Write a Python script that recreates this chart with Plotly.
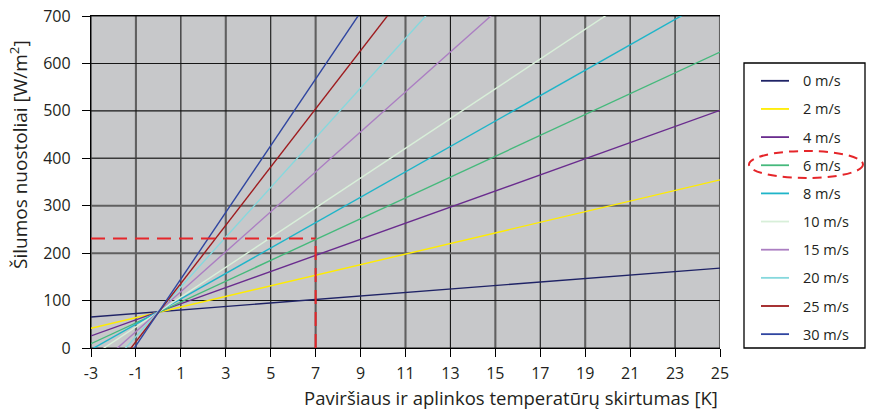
import plotly.graph_objects as go

# ---- data ----
speeds = ["0 m/s", "2 m/s", "4 m/s", "6 m/s", "8 m/s", "10 m/s", "15 m/s", "20 m/s", "25 m/s", "30 m/s"]
x_ends = [-3, 25]
y_at_start = [65.5, 41.6, 25.4, 9.1, -3.4, -18.2, -49.7, -80.7, -109.3, -135.7]
y_at_end = [168.5, 354.5, 501.0, 624.0, 746.4, 860.4, 1129.7, 1386.5, 1608.6, 1832.7]
colors = ["#1f2366", "#ffec00", "#6a2c8e", "#45b97c", "#1fb5c9",
          "#d8efd9", "#ab7ec2", "#86d8dd", "#9e1b1e", "#2f45a0"]

# example reading (red dashed helper lines)
ex_dT = 7
ex_q = 231
ex_vert_top = 218

x_ticks = list(range(-3, 26, 2))
x_tick_labels = [str(v) for v in x_ticks]  # plain hyphen minus as in the original
y_ticks = list(range(0, 701, 100))
gray_x_grid = [-1, 3, 7, 11, 15, 19, 25]
gray_y_grid = [200, 300]
darkgray_y_grid = [400]

FONT = "Open Sans"
TXT = "#231f20"

# ---- pixel geometry of the figure ----
W, H = 869, 410
L, R, T, B = 91, 720, 16, 348


def px(p):
    return (p - L) / (R - L)


def py(p):
    return (B - p) / (B - T)


fig = go.Figure()
for name, y0, y1, c in zip(speeds, y_at_start, y_at_end, colors):
    fig.add_trace(go.Scatter(
        x=x_ends, y=[y0, y1], mode="lines", name=name,
        line=dict(color=c, width=1.4), hoverinfo="skip", showlegend=False))

red = "#e5262a"
fig.add_trace(go.Scatter(x=[x_ends[0], ex_dT], y=[ex_q, ex_q], mode="lines",
                         line=dict(color=red, width=2, dash="14px,8px"),
                         showlegend=False, hoverinfo="skip"))
fig.add_trace(go.Scatter(x=[ex_dT, ex_dT], y=[0, ex_vert_top], mode="lines",
                         line=dict(color=red, width=2, dash="14px,8px"),
                         showlegend=False, hoverinfo="skip"))

shapes = []
black = "#161616"
gray = "#606060"
for gx in x_ticks:
    if gx in gray_x_grid:
        continue
    shapes.append(dict(type="line", xref="x", yref="paper", x0=gx, x1=gx, y0=0, y1=1,
                       line=dict(color=black, width=1.1), layer="between"))
for gx in gray_x_grid:
    shapes.append(dict(type="line", xref="x", yref="paper", x0=gx, x1=gx, y0=0, y1=1,
                       line=dict(color=gray, width=2.1), layer="between"))
for gy in y_ticks:
    if gy in gray_y_grid or gy in darkgray_y_grid:
        continue
    shapes.append(dict(type="line", xref="paper", yref="y", x0=0, x1=1, y0=gy, y1=gy,
                       line=dict(color=black, width=1.1), layer="between"))
for gy in gray_y_grid:
    shapes.append(dict(type="line", xref="paper", yref="y", x0=0, x1=1, y0=gy, y1=gy,
                       line=dict(color=gray, width=2.0), layer="between"))
for gy in darkgray_y_grid:
    shapes.append(dict(type="line", xref="paper", yref="y", x0=0, x1=1, y0=gy, y1=gy,
                       line=dict(color="#3a3a3a", width=1.6), layer="between"))

# ---- manual legend ----
annotations = []
box_l, box_r, box_t, box_b = 744, 865, 63, 348
shapes.append(dict(type="rect", xref="paper", yref="paper",
                   x0=px(box_l), x1=px(box_r), y0=py(box_b), y1=py(box_t),
                   line=dict(color="#000", width=1.3), fillcolor="white", layer="below"))
first_y, step = 80.8, 28.15
for i, (name, c) in enumerate(zip(speeds, colors)):
    yy = first_y + i * step
    shapes.append(dict(type="line", xref="paper", yref="paper",
                       x0=px(761), x1=px(789), y0=py(yy), y1=py(yy),
                       line=dict(color=c, width=1.8), layer="above"))
    annotations.append(dict(text=name, xref="paper", yref="paper",
                            x=px(801), y=py(yy), xanchor="left", yanchor="middle",
                            showarrow=False, font=dict(family=FONT, size=14.5, color=TXT)))

# dashed ellipse highlighting 6 m/s in legend
shapes.append(dict(type="circle", xref="paper", yref="paper",
                   x0=px(749), x1=px(863), y0=py(178), y1=py(151),
                   line=dict(color=red, width=2, dash="9px,6px"), layer="above"))

# axis titles
annotations.append(dict(text="Paviršiaus ir aplinkos temperatūrų skirtumas [K]",
                        xref="paper", yref="paper", x=px(720), y=py(397),
                        xanchor="right", yanchor="middle", showarrow=False,
                        font=dict(family=FONT, size=18.5, color=TXT)))
annotations.append(dict(text="Šilumos nuostoliai [W/m<sup>2</sup>]",
                        xref="paper", yref="paper", x=px(19), y=py(155),
                        xanchor="center", yanchor="middle", textangle=-90, showarrow=False,
                        font=dict(family=FONT, size=19, color=TXT)))

fig.update_layout(
    width=W, height=H,
    margin=dict(l=L, r=W - R, t=T, b=H - B),
    paper_bgcolor="white", plot_bgcolor="#c7c8ca",
    font=dict(family=FONT, size=16, color=TXT),
    shapes=shapes, annotations=annotations,
    showlegend=False,
    xaxis=dict(range=[-3, 25], tickvals=x_ticks, ticktext=x_tick_labels,
               ticks="outside", ticklen=8,
               tickcolor="#000", tickwidth=1.2, showgrid=False,
               showline=True, linecolor="#000", linewidth=1.3, mirror=True,
               zeroline=False, tickfont=dict(size=16), automargin=False,
               ticklabelstandoff=3),
    yaxis=dict(range=[0, 700], tickvals=y_ticks, ticks="outside", ticklen=8,
               tickcolor="#000", tickwidth=1.2, showgrid=False,
               showline=True, linecolor="#000", linewidth=1.3,
               zeroline=False, tickfont=dict(size=16), automargin=False,
               ticklabelstandoff=8),
)

fig.write_html("out.html", config={"displayModeBar": False},
               post_script="document.body.style.margin='0';document.body.style.overflow='hidden';")
